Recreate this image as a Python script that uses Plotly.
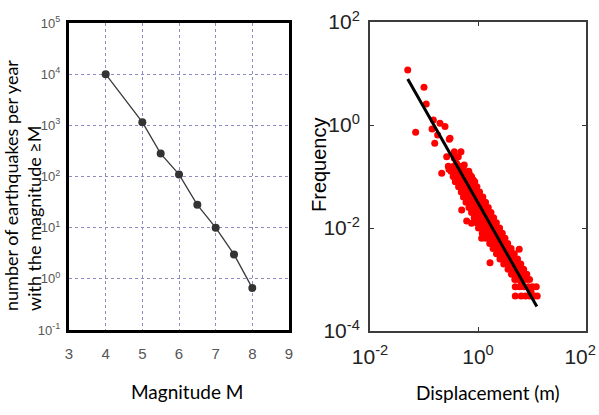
import plotly.graph_objects as go

# left panel: Gutenberg-Richter, cumulative number of earthquakes per year
magnitude = [4, 5, 5.5, 6, 6.5, 7, 7.5, 8]
n_quakes = [10000, 1150, 280, 110, 28, 10, 3.0, 0.66]

mag_ticks = [3, 4, 5, 6, 7, 8, 9]
count_ticks = [0.1, 1, 10, 100, 1000, 10000, 100000]
count_labels = ["10<sup>-1</sup>", "10<sup>0</sup>", "10<sup>1</sup>", "10<sup>2</sup>",
                "10<sup>3</sup>", "10<sup>4</sup>", "10<sup>5</sup>"]

# right panel: displacement frequency
disp_m = [
    0.050, 0.100, 0.110, 0.070, 0.149, 0.141, 0.198, 0.245, 0.179, 0.158,
    0.303, 0.294, 0.263, 0.213, 0.290, 0.364, 0.484, 0.432, 0.400, 0.557,
    0.375, 0.711, 0.819, 0.499, 0.364, 0.499, 0.617, 0.760, 1.17, 1.67, 5.80,
    0.282, 0.355, 0.437, 0.50,
    0.316, 0.398, 0.468, 0.562, 0.676,
    0.347, 0.427, 0.525, 0.631, 0.759,
    0.380, 0.490, 0.603, 0.708, 0.871,
    0.437, 0.537, 0.661, 0.794, 0.955,
    0.490, 0.603, 0.759, 0.891, 1.07,
    0.537, 0.692, 0.851, 1.02, 1.23,
    0.60, 0.776, 0.955, 1.15, 1.38,
    0.68, 0.891, 1.10, 1.32, 1.55,
    0.76, 0.95, 1.23, 1.48, 1.74,
    0.85, 1.06, 1.38, 1.66, 1.95,
    0.95, 1.20, 1.50, 1.86, 2.19,
    1.02, 1.30, 1.65, 2.05, 2.51,
    1.20, 1.50, 1.90, 2.35, 2.82,
    1.40, 1.75, 2.15, 2.65, 3.16,
    1.65, 2.00, 2.45, 2.95, 3.55,
    1.90, 2.35, 2.80, 3.40, 4.10,
    2.20, 2.70, 3.25, 3.90, 4.70,
    2.55, 3.10, 3.75, 4.50, 5.40,
    3.00, 3.60, 4.35, 5.20, 6.20,
    3.60, 4.25, 5.00, 5.90, 7.00,
    4.15, 4.90, 5.75, 6.80, 8.00,
    4.80, 5.60, 6.60, 7.80, 9.00,
    4.90, 5.90, 7.10, 8.50, 10.2, 12.0,
    4.90, 6.30, 7.60, 9.10, 11.0, 12.5,
    0.62, 1.30, 2.60, 3.30, 0.82, 1.75, 6.4, 9.6,
]
freq = [
    11.7, 5.4, 2.56, 0.72, 1.25, 0.84, 1.08, 0.93, 0.64, 0.44,
    0.55, 0.527, 0.243, 0.115, 0.138, 0.303, 0.303, 0.243, 0.18, 0.167,
    0.092, 0.107, 0.0855, 0.0792, 0.225, 0.0224, 0.0137, 0.0123, 0.0063, 0.00212, 0.00386,
    0.158, 0.158, 0.158, 0.158,
    0.126, 0.126, 0.126, 0.126, 0.126,
    0.100, 0.100, 0.100, 0.100, 0.100,
    0.0794, 0.0794, 0.0794, 0.0794, 0.0794,
    0.0631, 0.0631, 0.0631, 0.0631, 0.0631,
    0.0501, 0.0501, 0.0501, 0.0501, 0.0501,
    0.0398, 0.0398, 0.0398, 0.0398, 0.0398,
    0.0316, 0.0316, 0.0316, 0.0316, 0.0316,
    0.0251, 0.0251, 0.0251, 0.0251, 0.0251,
    0.0200, 0.0200, 0.0200, 0.0200, 0.0200,
    0.0158, 0.0158, 0.0158, 0.0158, 0.0158,
    0.0126, 0.0126, 0.0126, 0.0126, 0.0126,
    0.0100, 0.0100, 0.0100, 0.0100, 0.0100,
    0.00794, 0.00794, 0.00794, 0.00794, 0.00794,
    0.00631, 0.00631, 0.00631, 0.00631, 0.00631,
    0.00501, 0.00501, 0.00501, 0.00501, 0.00501,
    0.00398, 0.00398, 0.00398, 0.00398, 0.00398,
    0.00316, 0.00316, 0.00316, 0.00316, 0.00316,
    0.00251, 0.00251, 0.00251, 0.00251, 0.00251,
    0.00200, 0.00200, 0.00200, 0.00200, 0.00200,
    0.00158, 0.00158, 0.00158, 0.00158, 0.00158,
    0.00126, 0.00126, 0.00126, 0.00126, 0.00126,
    0.00100, 0.00100, 0.00100, 0.00100, 0.00100,
    0.00072, 0.00072, 0.00072, 0.00072, 0.00072, 0.00072,
    0.00048, 0.00048, 0.00048, 0.00048, 0.00048, 0.00048,
    0.055, 0.021, 0.0045, 0.0036, 0.071, 0.0112, 0.00085, 0.00058,
]

# fitted power law line, end points
fit_disp = [0.050, 12.3]
fit_freq = [7.8, 0.0003]

pow_ticks = [0.01, 1, 100]
# trailing spaces pull the last label back inside the page edge
pow_labels = ["10<sup>-2</sup>", "10<sup>0</sup>", "10<sup>2</sup>&nbsp;&nbsp;"]
freq_ticks = [0.0001, 0.01, 1, 100]
freq_labels = ["10<sup>-4</sup>", "10<sup>-2</sup>", "10<sup>0</sup>", "10<sup>2</sup>"]

narrow = "Liberation Sans Narrow, Arial Narrow, Liberation Sans, sans-serif"
calibri_like = "Lato, Open Sans, sans-serif"

fig = go.Figure()

fig.add_trace(go.Scatter(
    x=magnitude, y=n_quakes, mode="lines+markers",
    line=dict(color="#3a3a3a", width=1.3),
    marker=dict(color="#333333", size=8),
    xaxis="x", yaxis="y", showlegend=False,
))

fig.add_trace(go.Scatter(
    x=disp_m, y=freq, mode="markers",
    marker=dict(color="#ff0000", size=7, line=dict(width=0)),
    xaxis="x2", yaxis="y2", showlegend=False,
))
fig.add_trace(go.Scatter(
    x=fit_disp, y=fit_freq, mode="lines",
    line=dict(color="black", width=3),
    xaxis="x2", yaxis="y2", showlegend=False,
))

grid = dict(showgrid=True, gridcolor="#8d8dc4", gridwidth=1, griddash="dot")

fig.update_layout(
    width=599, height=415,
    margin=dict(l=0, r=0, t=0, b=0),
    paper_bgcolor="white", plot_bgcolor="white",
    xaxis=dict(
        domain=[69 / 599, 289 / 599], range=[3, 9], automargin=False,
        tickvals=mag_ticks, ticks="", ticklabelstandoff=8,
        tickfont=dict(family=narrow, size=15, color="#555555"),
        showline=True, linecolor="black", linewidth=3, mirror=True,
        zeroline=False, **grid,
    ),
    yaxis=dict(
        domain=[1 - 330 / 415, 1 - 23 / 415], type="log", range=[-1, 5], automargin=False,
        tickvals=count_ticks, ticktext=count_labels, ticks="", ticklabelstandoff=3,
        tickfont=dict(family=narrow, size=13, color="#555555"),
        showline=True, linecolor="black", linewidth=3, mirror=True,
        zeroline=False, **grid,
    ),
    xaxis2=dict(
        domain=[370 / 599, 586 / 599], type="log", range=[-2, 2], automargin=False,
        tickvals=pow_ticks, ticktext=pow_labels, ticklabeloverflow="allow",
        ticks="inside", ticklen=4, tickcolor="#333333", ticklabelstandoff=6,
        tickfont=dict(family=narrow, size=21, color="#222222"),
        showline=True, linecolor="#3c3c3c", linewidth=2, mirror="ticks",
        showgrid=False, zeroline=False, anchor="y2",
    ),
    yaxis2=dict(
        domain=[1 - 331 / 415, 1 - 22 / 415], type="log", range=[-4, 2], automargin=False,
        tickvals=freq_ticks, ticktext=freq_labels, ticklabeloverflow="allow",
        ticks="inside", ticklen=4, tickcolor="#333333", ticklabelstandoff=4,
        tickfont=dict(family=narrow, size=21, color="#222222"),
        showline=True, linecolor="#3c3c3c", linewidth=2, mirror="ticks",
        showgrid=False, zeroline=False, anchor="x2",
    ),
)

# axis titles
titles = [
    ("number of earthquakes per year<br>with the magnitude ≥M", 22, 186, -90, calibri_like, 18),
    ("Magnitude M", 187, 391, 0, calibri_like, 19),
    ("Frequency", 319, 165, -90, "Liberation Sans, Arial, sans-serif", 20),
    ("Displacement (m)", 488, 392, 0, calibri_like, 19),
]
for text, px, py, angle, family, size in titles:
    fig.add_annotation(
        text=text, xref="paper", yref="paper", x=px / 599, y=1 - py / 415,
        xanchor="center", yanchor="middle", textangle=angle, align="left",
        showarrow=False, font=dict(family=family, size=size, color="black"),
    )

# page body has a default margin, drop it so the figure sits at the corner
fig.write_html("out.html", config={"displayModeBar": False},
               post_script="document.body.style.margin='0';")
